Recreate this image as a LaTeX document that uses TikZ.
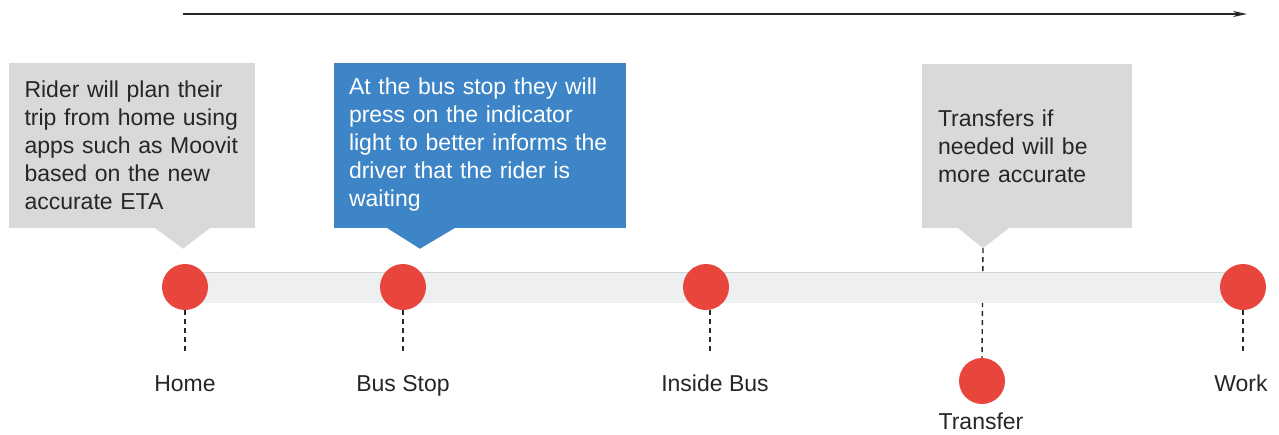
\documentclass[tikz,border=0pt]{standalone}
\usepackage{fontspec}
\setmainfont{Liberation Sans}
\usetikzlibrary{arrows.meta,positioning,backgrounds}
\definecolor{notegrey}{HTML}{D9D9D9}
\definecolor{noteblue}{HTML}{3D85C6}
\definecolor{stopred}{HTML}{E8453C}
\definecolor{barfill}{HTML}{EEEFF1}
\definecolor{barline}{HTML}{D3D4D6}
\definecolor{inkgrey}{HTML}{262626}

\begin{document}
\begin{tikzpicture}[x=1pt,y=-1pt,font=\fontsize{23}{28}\selectfont,
    note/.style={rectangle,inner ysep=0pt,align=left,text=inkgrey},
    stop/.style={circle,fill=stopred,minimum size=46pt,inner sep=0pt},
    place/.style={anchor=base,text=inkgrey},
    leader/.style={draw=inkgrey,line width=1.4pt,dash pattern=on 5pt off 4pt}]

  \useasboundingbox (0,0) rectangle (1279,434);

  \coordinate (start) at (183,14);
  \coordinate (finish) at (1247,14);
  \draw[-{Stealth[length=14pt,width=6pt]},line width=1.8pt,inkgrey] (start) -- (finish);

  \node[note,fill=notegrey,inner xsep=16pt,text width=214pt,minimum height=165pt] (homenote) at (131.5,145)
    {Rider will plan their\\trip from home using\\apps such as Moovit\\based on the new\\accurate ETA};
  \node[note,fill=noteblue,text=white,inner xsep=15pt,text width=262pt,minimum height=165pt] (busnote) at (480,145)
    {At the bus stop they will\\press on the indicator\\light to better informs the\\driver that the rider is\\waiting};
  \node[note,fill=notegrey,inner xsep=16pt,text width=178pt,minimum height=164pt] (transfernote) at (1027,146)
    {Transfers if\\needed will be\\more accurate};

  \fill[notegrey] (homenote.south) ++(21.5,-1) -- ++(59,0) -- ++(-29,22) -- cycle;
  \fill[noteblue] (busnote.south) ++(-95,-1) -- ++(72,0) -- ++(-37,22) -- cycle;
  \fill[notegrey] (transfernote.south) ++(-70,-1) -- ++(53,0) -- ++(-27,21) coordinate (transfertip) -- cycle;

  \node[stop] (home) at (185,287) {};
  \node[stop] (busstop) at (403,287) {};
  \node[stop] (insidebus) at (706,287) {};
  \node[stop] (transfer) at (982,381) {};
  \node[stop] (work) at (1243,287) {};

  \begin{scope}[on background layer]
    \draw[leader] (transfertip) -- (transfer.north);
    \fill[barfill] ([yshift=15pt]home.center) rectangle ([yshift=-16pt]work.center);
    \draw[barline,line width=0.8pt] ([yshift=15pt]home.center) -- ([yshift=15pt]work.center);
  \end{scope}

  \draw[leader] (home.south) -- ++(0,43);
  \draw[leader] (busstop.south) -- ++(0,43);
  \draw[leader] ([xshift=4pt]insidebus.south) -- ++(0,43);
  \draw[leader] (work.south) -- ++(0,43);

  \node[place] (homelabel) at (185,391) {Home};
  \node[place] (buslabel) at (403,391) {Bus Stop};
  \node[place] (insidelabel) at (715,391) {Inside Bus};
  \node[place] (transferlabel) at (981,429) {Transfer};
  \node[place] (worklabel) at (1241,391) {Work};

\end{tikzpicture}
\end{document}
